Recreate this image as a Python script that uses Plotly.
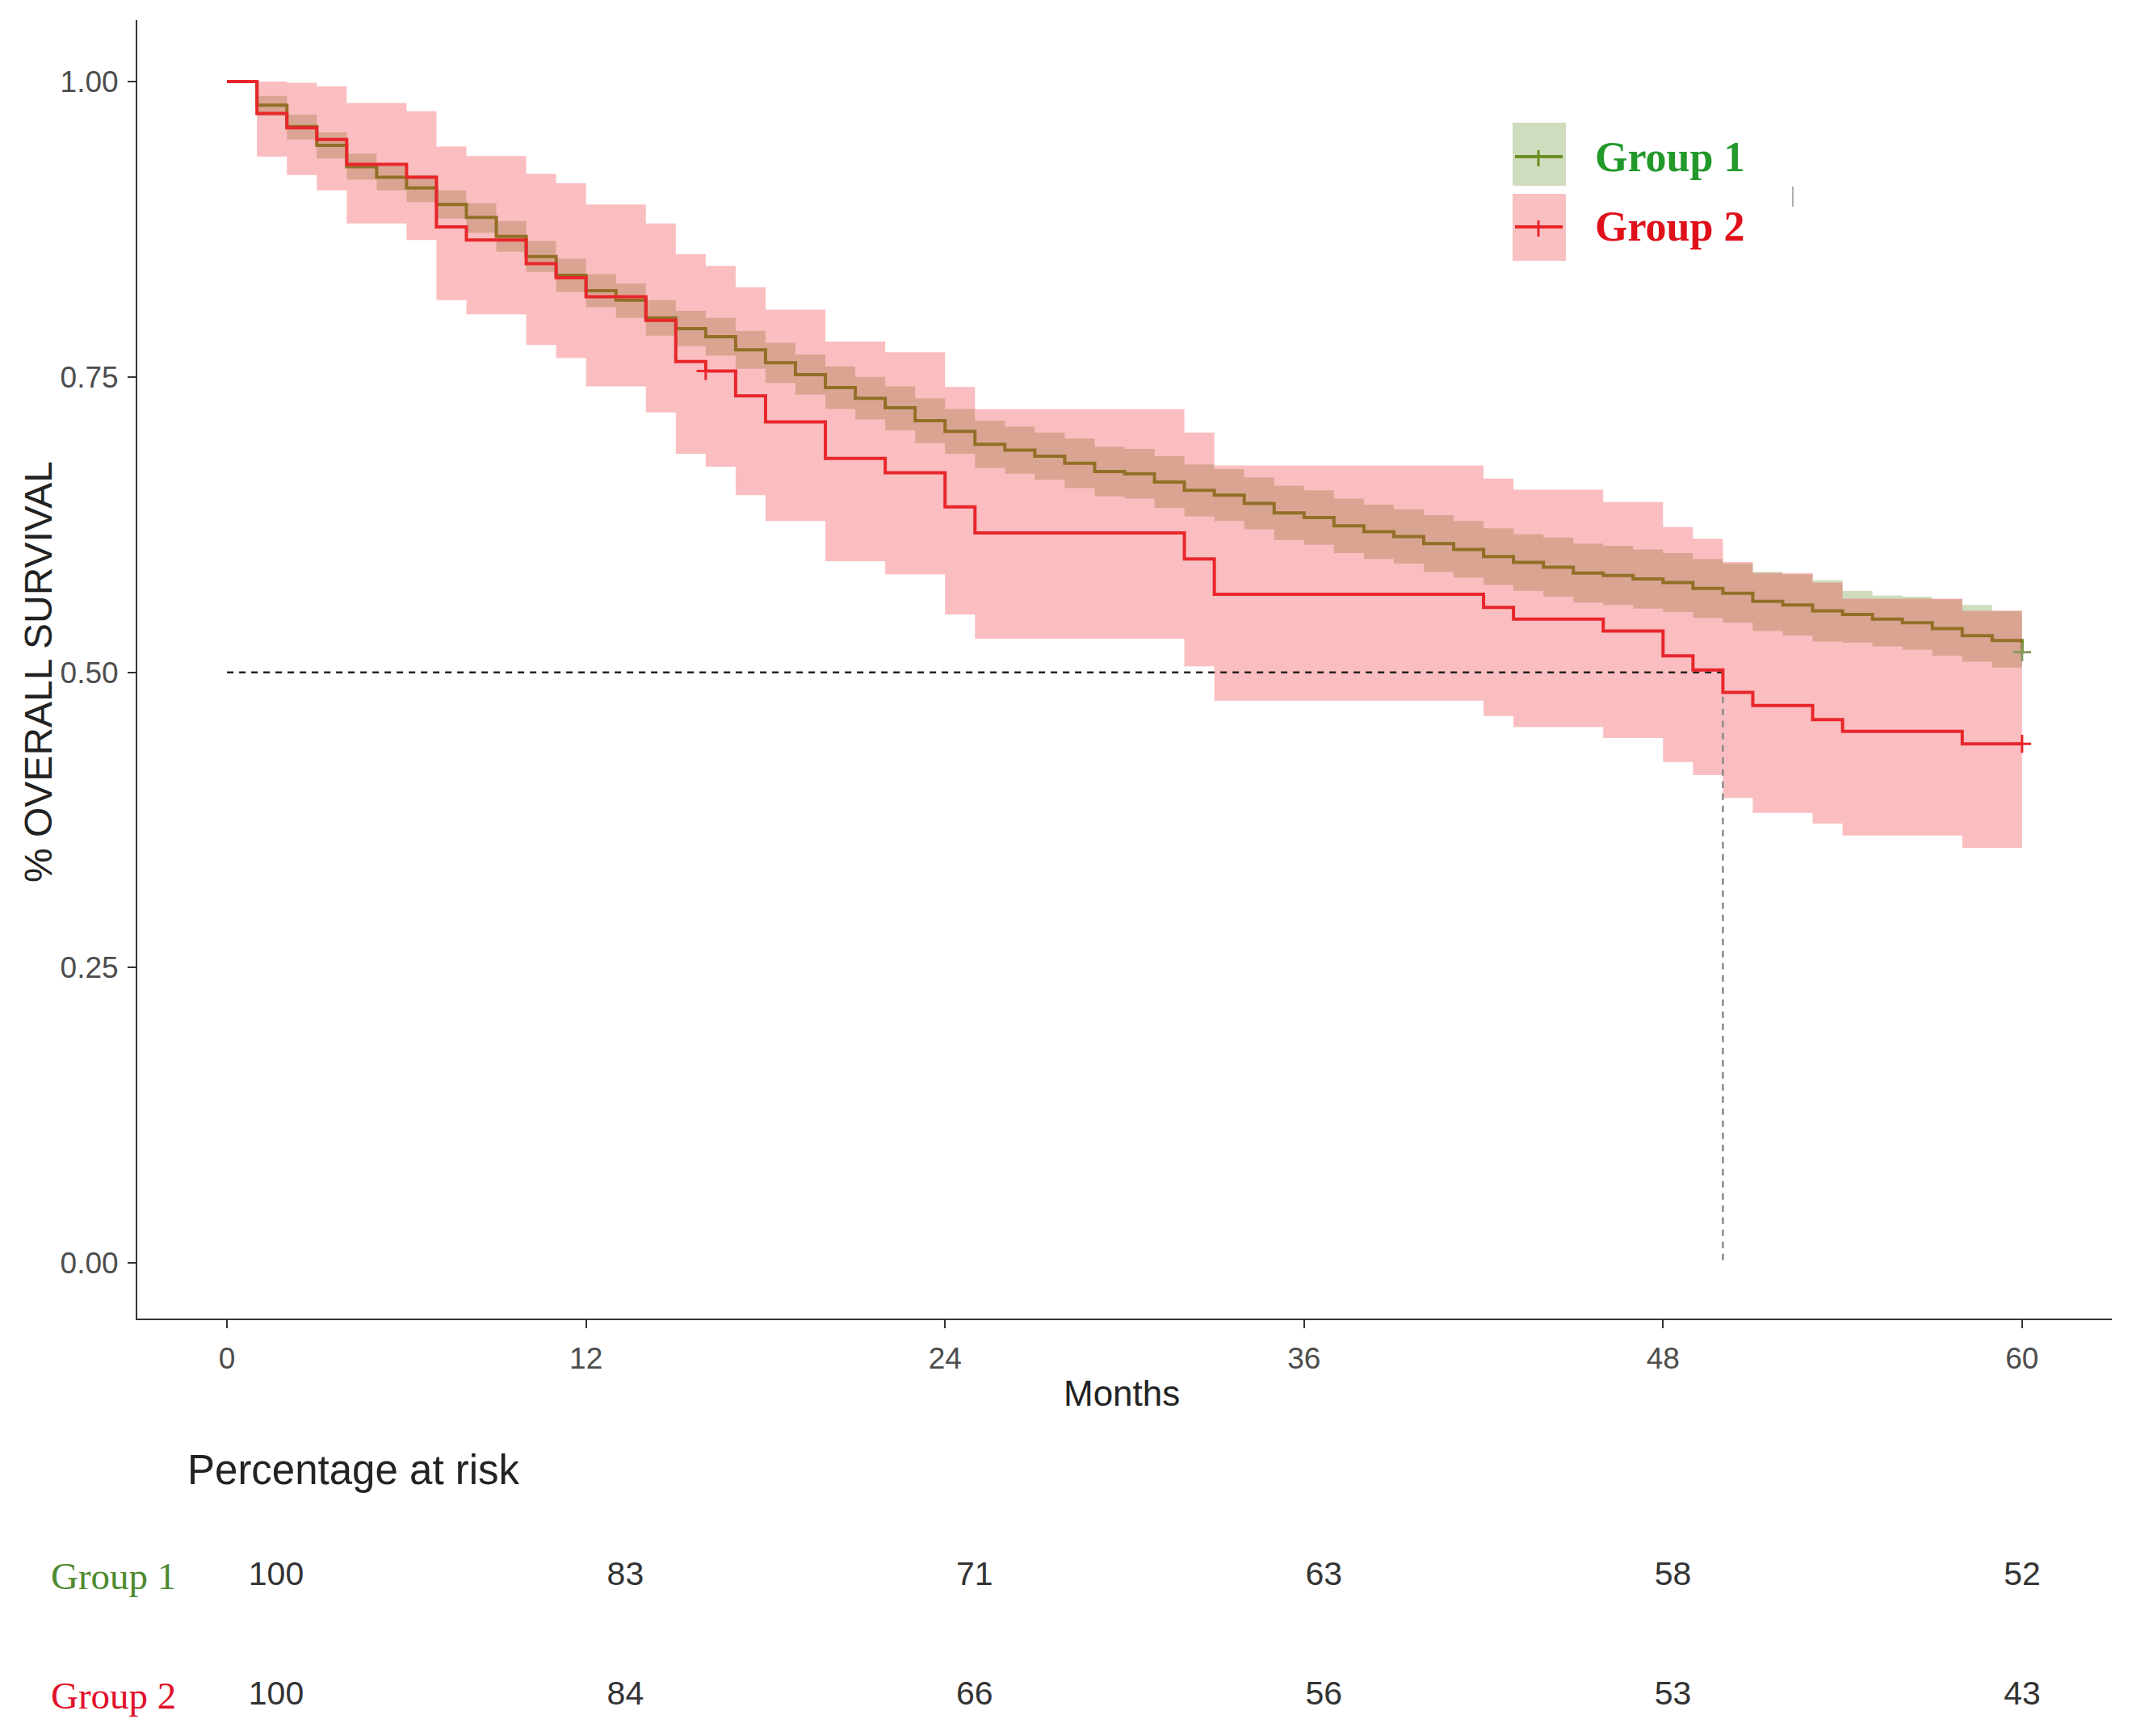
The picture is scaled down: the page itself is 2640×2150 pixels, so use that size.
import plotly.graph_objects as go

# ---- data ----
months_ticks = [0, 12, 24, 36, 48, 60]
y_ticks = [0.0, 0.25, 0.5, 0.75, 1.0]

# Group 1: Kaplan-Meier estimate with confidence band, one step per month
g1_time = [0, 1, 2, 3, 4, 5, 6, 7, 8, 9, 10, 11, 12, 13, 14, 15, 16, 17, 18, 19,
           20, 21, 22, 23, 24, 25, 26, 27, 28, 29, 30, 31, 32, 33, 34, 35, 36, 37, 38, 39,
           40, 41, 42, 43, 44, 45, 46, 47, 48, 49, 50, 51, 52, 53, 54, 55, 56, 57, 58, 59, 60]
g1_surv = [1.000, 0.980, 0.962, 0.946, 0.928, 0.919, 0.910, 0.896, 0.885, 0.869,
           0.852, 0.836, 0.823, 0.815, 0.800, 0.791, 0.784, 0.773, 0.762, 0.752,
           0.741, 0.732, 0.724, 0.713, 0.704, 0.693, 0.688, 0.683, 0.677, 0.670,
           0.668, 0.661, 0.654, 0.650, 0.643, 0.635, 0.631, 0.624, 0.619, 0.615,
           0.609, 0.604, 0.598, 0.593, 0.589, 0.584, 0.582, 0.579, 0.576, 0.571,
           0.567, 0.560, 0.557, 0.552, 0.549, 0.545, 0.542, 0.537, 0.531, 0.527, 0.517]
g1_upper = [1.000, 0.988, 0.972, 0.957, 0.939, 0.930, 0.921, 0.908, 0.897, 0.882,
            0.865, 0.850, 0.837, 0.829, 0.815, 0.806, 0.800, 0.789, 0.779, 0.769,
            0.759, 0.750, 0.742, 0.732, 0.723, 0.713, 0.708, 0.703, 0.698, 0.691,
            0.689, 0.683, 0.676, 0.672, 0.665, 0.658, 0.654, 0.647, 0.642, 0.638,
            0.633, 0.628, 0.622, 0.617, 0.614, 0.609, 0.607, 0.604, 0.601, 0.596,
            0.592, 0.585, 0.583, 0.578, 0.569, 0.565, 0.564, 0.562, 0.557, 0.552, 0.545]
g1_lower = [1.000, 0.971, 0.951, 0.935, 0.917, 0.908, 0.898, 0.884, 0.872, 0.856,
            0.839, 0.822, 0.809, 0.800, 0.785, 0.776, 0.768, 0.757, 0.745, 0.735,
            0.723, 0.714, 0.705, 0.694, 0.685, 0.673, 0.668, 0.663, 0.656, 0.649,
            0.647, 0.639, 0.632, 0.628, 0.621, 0.612, 0.608, 0.601, 0.596, 0.592,
            0.585, 0.580, 0.574, 0.569, 0.564, 0.559, 0.557, 0.554, 0.551, 0.546,
            0.542, 0.535, 0.531, 0.526, 0.525, 0.522, 0.519, 0.514, 0.509, 0.504, 0.490]

# Group 2: fewer, larger steps
g2_time = [0, 1, 2, 3, 4, 6, 7, 8, 10, 11, 12, 14, 15, 16, 17, 18, 20, 22, 24, 25,
           32, 33, 42, 43, 46, 48, 49, 50, 51, 53, 54, 58]
g2_surv = [1.0, 0.973, 0.961, 0.951, 0.930, 0.919, 0.877, 0.866, 0.846, 0.834,
           0.818, 0.798, 0.763, 0.755, 0.734, 0.712, 0.681, 0.669, 0.640, 0.618,
           0.596, 0.566, 0.555, 0.545, 0.535, 0.514, 0.502, 0.483, 0.472, 0.460,
           0.450, 0.4395]
g2_upper = [1.0, 1.0, 0.999, 0.996, 0.982, 0.975, 0.945, 0.937, 0.922, 0.914,
            0.896, 0.880, 0.854, 0.844, 0.826, 0.807, 0.780, 0.771, 0.7415, 0.7227,
            0.703, 0.675, 0.664, 0.6545, 0.6442, 0.623, 0.613, 0.5934, 0.584, 0.576,
            0.5623, 0.552]
g2_lower = [1.0, 0.9365, 0.921, 0.908, 0.880, 0.866, 0.815, 0.803, 0.777, 0.766,
            0.742, 0.720, 0.685, 0.674, 0.650, 0.628, 0.594, 0.583, 0.549, 0.5285,
            0.505, 0.476, 0.463, 0.4536, 0.4444, 0.424, 0.413, 0.3936, 0.381, 0.372,
            0.3618, 0.3515]
g2_censor_time = [16, 60]
g1_censor_time = [60]
follow_up_end = 60

# percentage at risk table
risk_time = [0, 12, 24, 36, 48, 60]
risk_g1 = [100, 83, 71, 63, 58, 52]
risk_g2 = [100, 84, 66, 56, 53, 43]

groups = ["Group 1", "Group 2"]

# ---- styling ----
W, H = 2640, 2150
OFF = 8  # page margin of the browser
# plot area in screen pixels
PL, PR, PT, PB = 170, 2615, 25, 2128
ML, MT = PL - OFF, PT - OFF
MR, MB = W - (PR - OFF), H - (PB - OFF)
PW, PH = PR - PL, PB - PT

G1_LINE = "#6b8e23"
G1_FILL = "rgba(100,140,40,0.30)"
G2_LINE = "#e8262b"
G2_FILL = "rgba(240,40,45,0.30)"
SANS = "Liberation Sans, Arial, sans-serif"
SERIF = "Liberation Serif, Times New Roman, serif"


def px(x):
    return (x - PL) / PW


def py(y):
    return (PB - y) / PH


def extend(t, v):
    # carry the last step to the end of follow-up
    if t[-1] < follow_up_end:
        return t + [follow_up_end], v + [v[-1]]
    return t, v


def step_at(t, v, x):
    val = v[0]
    for ti, vi in zip(t, v):
        if ti <= x:
            val = vi
    return val


fig = go.Figure()

# group 1 band + line
t1, u1 = extend(g1_time, g1_upper)
_, l1 = extend(g1_time, g1_lower)
_, s1 = extend(g1_time, g1_surv)
fig.add_trace(go.Scatter(x=t1, y=u1, mode="lines", line=dict(width=0, shape="hv"),
                         hoverinfo="skip", showlegend=False))
fig.add_trace(go.Scatter(x=t1, y=l1, mode="lines", line=dict(width=0, shape="hv"),
                         fill="tonexty", fillcolor=G1_FILL, hoverinfo="skip", showlegend=False))
fig.add_trace(go.Scatter(x=t1, y=s1, mode="lines", line=dict(color=G1_LINE, width=4, shape="hv"),
                         name=groups[0], showlegend=False))

# group 2 band + line
t2, u2 = extend(g2_time, g2_upper)
_, l2 = extend(g2_time, g2_lower)
_, s2 = extend(g2_time, g2_surv)
fig.add_trace(go.Scatter(x=t2, y=u2, mode="lines", line=dict(width=0, shape="hv"),
                         hoverinfo="skip", showlegend=False))
fig.add_trace(go.Scatter(x=t2, y=l2, mode="lines", line=dict(width=0, shape="hv"),
                         fill="tonexty", fillcolor=G2_FILL, hoverinfo="skip", showlegend=False))

# median survival of group 2 (dashed guide lines)
median_t = next(t for t, s in zip(g2_time, g2_surv) if s <= 0.5)
fig.add_trace(go.Scatter(x=[0, median_t], y=[0.5, 0.5], mode="lines",
                         line=dict(color="#222222", width=2.5, dash="8px,7px"),
                         hoverinfo="skip", showlegend=False))
fig.add_trace(go.Scatter(x=[median_t, median_t], y=[0.5, 0], mode="lines",
                         line=dict(color="#8a8a8a", width=2.5, dash="8px,7px"),
                         hoverinfo="skip", showlegend=False))

fig.add_trace(go.Scatter(x=t2, y=s2, mode="lines", line=dict(color=G2_LINE, width=4, shape="hv"),
                         name=groups[1], showlegend=False))

# censor marks
fig.add_trace(go.Scatter(x=g1_censor_time, y=[step_at(t1, s1, c) for c in g1_censor_time],
                         mode="markers", marker=dict(symbol="cross-thin", size=16,
                                                      line=dict(color="#8a9a60", width=3)),
                         hoverinfo="skip", showlegend=False))
fig.add_trace(go.Scatter(x=g2_censor_time, y=[step_at(t2, s2, c) for c in g2_censor_time],
                         mode="markers", marker=dict(symbol="cross-thin", size=16,
                                                      line=dict(color=G2_LINE, width=3)),
                         hoverinfo="skip", showlegend=False))

# risk table numbers
fig.add_trace(go.Scatter(x=risk_time, y=[1] * len(risk_time), text=[str(v) for v in risk_g1],
                         mode="text", textfont=dict(family=SANS, size=41, color="#333333"),
                         xaxis="x2", yaxis="y2", hoverinfo="skip", showlegend=False))
fig.add_trace(go.Scatter(x=risk_time, y=[0] * len(risk_time), text=[str(v) for v in risk_g2],
                         mode="text", textfont=dict(family=SANS, size=41, color="#333333"),
                         xaxis="x2", yaxis="y2", hoverinfo="skip", showlegend=False))

axis_common = dict(showgrid=False, zeroline=False, showline=True, linecolor="#333333",
                   linewidth=2, ticks="outside", ticklen=10, tickwidth=2, tickcolor="#333333",
                   tickfont=dict(family=SANS, size=37, color="#4d4d4d"))

annotations = [
    dict(text="% OVERALL SURVIVAL", xref="paper", yref="paper", x=px(47), y=py(832),
         textangle=-90, showarrow=False, xanchor="center", yanchor="middle",
         font=dict(family=SANS, size=48, color="#222222")),
    dict(text="Months", xref="paper", yref="paper", x=px(1389), y=py(1726),
         showarrow=False, xanchor="center", yanchor="middle",
         font=dict(family=SANS, size=44, color="#222222")),
    dict(text="Percentage at risk", xref="paper", yref="y2", x=px(230), y=1.89,
         showarrow=False, xanchor="left", yanchor="middle",
         font=dict(family=SANS, size=51, color="#222222")),
    dict(text=groups[0], xref="paper", yref="y2", x=px(220), y=1,
         showarrow=False, xanchor="right", yanchor="middle",
         font=dict(family=SERIF, size=47, color="#4e8a2e")),
    dict(text=groups[1], xref="paper", yref="y2", x=px(220), y=0,
         showarrow=False, xanchor="right", yanchor="middle",
         font=dict(family=SERIF, size=47, color="#e0102a")),
    dict(text="<b>" + groups[0] + "</b>", xref="paper", yref="paper", x=px(1973), y=py(195),
         showarrow=False, xanchor="left", yanchor="middle",
         font=dict(family=SERIF, size=52, color="#22992a")),
    dict(text="<b>" + groups[1] + "</b>", xref="paper", yref="paper", x=px(1973), y=py(280),
         showarrow=False, xanchor="left", yanchor="middle",
         font=dict(family=SERIF, size=52, color="#e0101a")),
]

shapes = [
    # legend keys
    dict(type="rect", xref="paper", yref="paper", x0=px(1873), x1=px(1939), y0=py(152), y1=py(230),
         fillcolor="#cfdcbd", line=dict(width=0), layer="above"),
    dict(type="rect", xref="paper", yref="paper", x0=px(1873), x1=px(1939), y0=py(240), y1=py(323),
         fillcolor="#f8c0c0", line=dict(width=0), layer="above"),
    dict(type="line", xref="paper", yref="paper", x0=px(1876), x1=px(1935), y0=py(194), y1=py(194),
         line=dict(color=G1_LINE, width=4), layer="above"),
    dict(type="line", xref="paper", yref="paper", x0=px(1905), x1=px(1905), y0=py(186), y1=py(206),
         line=dict(color=G1_LINE, width=3), layer="above"),
    dict(type="line", xref="paper", yref="paper", x0=px(1876), x1=px(1935), y0=py(281), y1=py(281),
         line=dict(color=G2_LINE, width=4), layer="above"),
    dict(type="line", xref="paper", yref="paper", x0=px(1905), x1=px(1905), y0=py(273), y1=py(293),
         line=dict(color=G2_LINE, width=3), layer="above"),
    # small stray mark next to the legend
    dict(type="line", xref="paper", yref="paper", x0=px(2220), x1=px(2220), y0=py(231), y1=py(256),
         line=dict(color="#b0b0b0", width=2), layer="above"),
]

km_bottom = py(1633)

fig.update_layout(
    width=W, height=H,
    margin=dict(l=ML, r=MR, t=MT, b=MB),
    paper_bgcolor="white", plot_bgcolor="white",
    showlegend=False,
    xaxis=dict(range=[-3, 63], tickvals=months_ticks, ticktext=[str(v) for v in months_ticks],
               domain=[0, 1], anchor="y", ticklabelstandoff=6, **axis_common),
    yaxis=dict(range=[-0.047, 1.052], tickvals=y_ticks, ticktext=["%.2f" % v for v in y_ticks],
               domain=[km_bottom, 1], anchor="x", ticklabelstandoff=4, **axis_common),
    xaxis2=dict(range=[-4.774, 63.08], domain=[0, 1], anchor="y2", visible=False),
    yaxis2=dict(range=[-0.186, 2.699], domain=[0, py(1701)], anchor="x2", visible=False),
    annotations=annotations,
    shapes=shapes,
)

fig.write_html("out.html")
